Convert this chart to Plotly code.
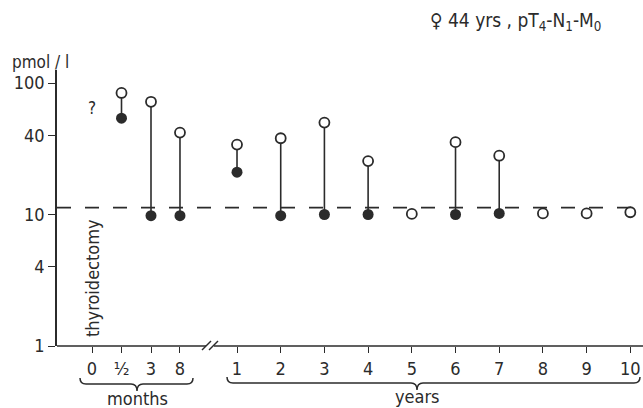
import numpy as np
import plotly.graph_objects as go

# ---- data ----
tick_labels = ["0", "½", "3", "8", "1", "2", "3", "4", "5", "6", "7", "8", "9", "10"]
tick_pos = [-2.318, -1.643, -0.968, -0.305, 1, 2, 3, 4, 5, 6, 7, 8, 9, 10]
open_vals = [None, 84, 72, 42, 34, 38, 50, 25.5, 10.1, 35.5, 28, 10.2, 10.2, 10.4]
filled_vals = [None, 54, 9.8, 9.8, 21, 9.8, 10.0, 10.0, None, 10.0, 10.2, None, None, None]
ref_level = 11.3
unknown_level = 65

INK = "#2b2b2b"
FONT = "DejaVu Sans Condensed, DejaVu Sans, sans-serif"

# layout geometry helpers (for decorations only)
L, R, T, B = 57, 0, 70, 62
W, H = 643, 408
XR = [-3.119, 10.29]
def X(px):
    return XR[0] + (px - L) / (W - L - R) * (XR[1] - XR[0])
def Y(py):
    return (H - B - py) / (H - T - B)

fig = go.Figure()

# stems
sx, sy = [], []
for p, o, f in zip(tick_pos, open_vals, filled_vals):
    if o is not None and f is not None:
        sx += [p, p, None]
        sy += [f, o, None]
fig.add_trace(go.Scatter(x=sx, y=sy, mode="lines", line=dict(color=INK, width=1.6),
                         hoverinfo="skip", showlegend=False))

# reference dashed line
fig.add_trace(go.Scatter(x=XR, y=[ref_level, ref_level], mode="lines",
                         line=dict(color=INK, width=1.8, dash="14px,14px"),
                         showlegend=False, hoverinfo="skip"))

fig.add_trace(go.Scatter(x=tick_pos, y=filled_vals, mode="markers",
                         marker=dict(symbol="circle", size=11, color=INK),
                         showlegend=False))
fig.add_trace(go.Scatter(x=tick_pos, y=open_vals, mode="markers",
                         marker=dict(symbol="circle", size=10, color="white",
                                     line=dict(color=INK, width=1.8)),
                         showlegend=False))

shapes = []
# x axis line with break
shapes.append(dict(type="line", xref="x", yref="paper", x0=XR[0], x1=X(206), y0=0, y1=0,
                   line=dict(color=INK, width=1.6)))
shapes.append(dict(type="line", xref="x", yref="paper", x0=X(214), x1=XR[1], y0=0, y1=0,
                   line=dict(color=INK, width=1.6)))
for dx in (0, 7):
    shapes.append(dict(type="line", xref="x", yref="paper", x0=X(202 + dx), x1=X(211 + dx),
                       y0=Y(350), y1=Y(341), line=dict(color=INK, width=1.4)))

def brace(x0, x1, xm, yt, yf, yd):
    return (f"M {X(x0)},{Y(yt)} Q {X(x0)},{Y(yf)} {X(x0+6)},{Y(yf)} "
            f"L {X(xm-6)},{Y(yf)} Q {X(xm)},{Y(yf)} {X(xm)},{Y(yd)} "
            f"Q {X(xm)},{Y(yf)} {X(xm+6)},{Y(yf)} "
            f"L {X(x1-6)},{Y(yf)} Q {X(x1)},{Y(yf)} {X(x1)},{Y(yt)}")

shapes.append(dict(type="path", xref="x", yref="paper", path=brace(80, 193, 137, 378, 384, 391),
                   line=dict(color=INK, width=1.5)))
shapes.append(dict(type="path", xref="x", yref="paper", path=brace(227, 640, 417, 377, 383, 390),
                   line=dict(color=INK, width=1.5)))

annotations = [
    dict(text="♀ 44 yrs , pT<sub>4</sub>-N<sub>1</sub>-M<sub>0</sub>", xref="paper", yref="paper",
         x=(515 - L) / (W - L - R), y=Y(22), showarrow=False, xanchor="center", yanchor="middle",
         font=dict(size=19, color=INK, family=FONT)),
    dict(text="pmol / l", xref="paper", yref="paper", x=(40 - L) / (W - L - R), y=Y(62),
         showarrow=False, xanchor="center", yanchor="middle",
         font=dict(size=17, color=INK, family=FONT)),
    dict(text="?", xref="x", yref="y", x=tick_pos[0], y=np.log10(unknown_level),
         showarrow=False, font=dict(size=17, color=INK, family=FONT)),
    dict(text="thyroidectomy", xref="x", yref="paper", x=tick_pos[0], y=Y(278), textangle=-90,
         showarrow=False, xanchor="center", yanchor="middle",
         font=dict(size=18, color=INK, family=FONT)),
    dict(text="months", xref="x", yref="paper", x=X(137), y=Y(398), showarrow=False,
         xanchor="center", yanchor="middle", font=dict(size=18, color=INK, family=FONT)),
    dict(text="years", xref="x", yref="paper", x=X(417), y=Y(396), showarrow=False,
         xanchor="center", yanchor="middle", font=dict(size=18, color=INK, family=FONT)),
]

fig.update_layout(
    width=W, height=H, margin=dict(l=L, r=R, t=T, b=B),
    paper_bgcolor="white", plot_bgcolor="white",
    font=dict(family=FONT, size=18, color=INK),
    shapes=shapes, annotations=annotations, showlegend=False,
    xaxis=dict(range=XR, tickmode="array", tickvals=tick_pos, ticktext=tick_labels,
               ticks="outside", ticklen=6, tickwidth=1.4, tickcolor=INK,
               showline=False, showgrid=False, zeroline=False,
               tickfont=dict(size=18, color=INK, family=FONT)),
    yaxis=dict(type="log", range=[0, 2.099], tickmode="array", tickvals=[1, 4, 10, 40, 100],
               ticktext=["1", "4", "10", "40", "100"], ticks="outside", ticklen=7, tickwidth=1.4,
               tickcolor=INK, showline=True, linecolor=INK, linewidth=1.6,
               showgrid=False, zeroline=False, tickfont=dict(size=18, color=INK, family=FONT)),
)

fig.write_html("out.html", config={"displayModeBar": False},
               post_script="document.body.style.margin='0px';")
